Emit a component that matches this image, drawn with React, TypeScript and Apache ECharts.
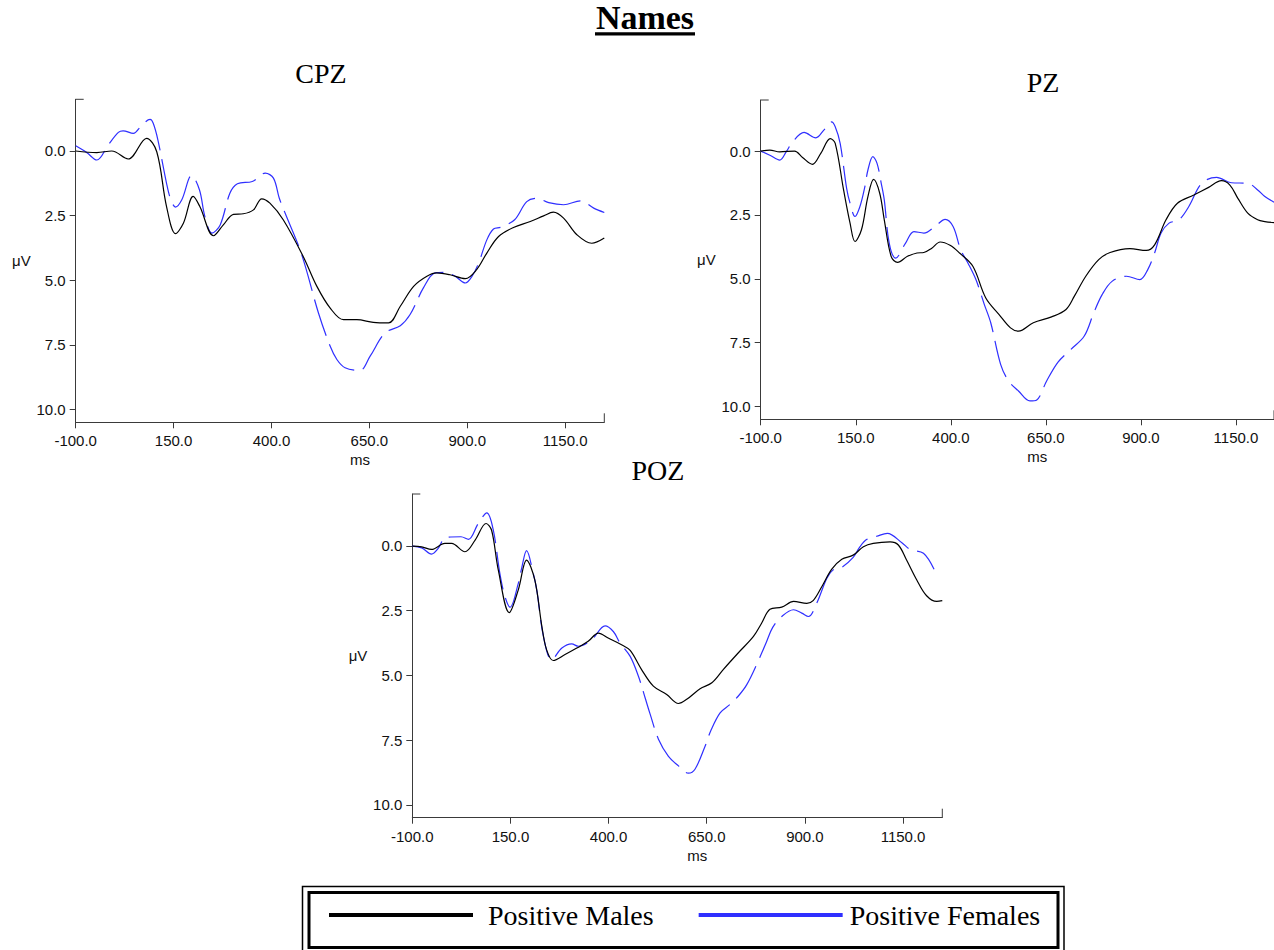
import React, { useEffect, useRef } from "react";
import * as echarts from "echarts";

// ---------- data (time in ms, amplitude in µV) ----------
const X_TICKS = [-100, 150, 400, 650, 900, 1150];
const Y_TICKS = [0, 2.5, 5, 7.5, 10];
const SERIES_NAMES = ["Positive Males", "Positive Females"];
const PANEL_NAMES = ["CPZ", "PZ", "POZ"];

const CPZ_MALES = [
  [-100, 0], [-46, 0.06], [-8, 0], [34, 0.31], [81, -0.49], [107, 0.03], [132, 2.15], [155, 3.2],
  [175, 2.8], [200, 1.76], [217, 2.15], [252, 3.28], [277, 2.86], [303, 2.45], [328, 2.43],
  [354, 2.28], [375, 1.85], [396, 2.02], [430, 2.66], [481, 4.08], [516, 5.24], [550, 6.08],
  [584, 6.53], [618, 6.53], [660, 6.63], [699, 6.65], [729, 6.01], [763, 5.24], [797, 4.85],
  [822, 4.72], [856, 4.79], [895, 4.94], [924, 4.59], [950, 3.95], [980, 3.31], [1018, 2.96],
  [1061, 2.73], [1095, 2.51], [1120, 2.37], [1146, 2.6], [1180, 3.24], [1218, 3.57], [1250, 3.37],
];
const CPZ_FEMALES = [
  [-100, -0.2], [-72, 0.06], [-46, 0.35], [-17, -0.23], [9, -0.72], [21, -0.78], [47, -0.68],
  [69, -1.0], [90, -1.22], [98, -1.07], [110, -0.42], [132, 1.25], [143, 1.89], [155, 2.17],
  [171, 1.89], [196, 0.95], [216, 1.5], [230, 2.54], [248, 3.18], [269, 2.86], [294, 1.63],
  [313, 1.27], [351, 1.18], [384, 0.86], [405, 1.05], [420, 1.83], [435, 2.41], [477, 4.0],
  [520, 6.27], [550, 7.56], [567, 8.07], [588, 8.39], [626, 8.49], [652, 7.94], [690, 7.04],
  [729, 6.76], [754, 6.33], [788, 5.3], [818, 4.72], [844, 4.7], [869, 4.85], [895, 5.11],
  [912, 4.85], [929, 4.34], [950, 3.44], [967, 3.02], [986, 2.95], [1021, 2.66], [1052, 1.96],
  [1078, 1.83], [1108, 2.0], [1146, 2.08], [1189, 1.93], [1223, 2.21], [1250, 2.38],
];
const PZ_MALES = [
  [-100, 0], [-76, -0.04], [-50, 0.03], [-11, 0], [10, 0.25], [36, 0.52], [58, 0.09], [83, -0.49],
  [96, -0.3], [118, 1.52], [135, 2.82], [148, 3.54], [165, 3.08], [182, 1.78], [197, 1.11],
  [213, 1.65], [225, 2.69], [243, 4.12], [260, 4.36], [286, 4.12], [311, 3.99], [329, 3.97],
  [350, 3.8], [372, 3.56], [398, 3.69], [423, 3.99], [458, 4.51], [492, 5.75], [527, 6.4],
  [557, 6.92], [578, 7.05], [617, 6.72], [665, 6.49], [703, 6.2], [725, 5.68], [755, 4.9],
  [789, 4.25], [819, 3.97], [871, 3.82], [914, 3.89], [936, 3.67], [966, 2.69], [996, 2.04],
  [1039, 1.72], [1078, 1.42], [1112, 1.16], [1134, 1.33], [1155, 1.85], [1181, 2.43],
  [1207, 2.69], [1226, 2.76], [1250, 2.8],
];
const PZ_FEMALES = [
  [-100, 0], [-76, 0.16], [-50, 0.35], [-33, 0.03], [-16, -0.36], [14, -0.73], [45, -0.52],
  [66, -0.82], [86, -1.14], [96, -0.95], [109, -0.3], [126, 1.46], [135, 2.04], [148, 2.56],
  [161, 2.17], [174, 1.39], [182, 0.74], [195, 0.22], [206, 0.48], [217, 1.26], [225, 1.91],
  [238, 3.6], [255, 4.19], [281, 3.6], [303, 3.15], [329, 3.21], [363, 2.89], [385, 2.67],
  [406, 2.95], [426, 3.86], [445, 4.38], [466, 5.03], [488, 6.0], [505, 6.72], [531, 8.35],
  [552, 9.0], [578, 9.39], [608, 9.78], [626, 9.74], [652, 9.0], [682, 8.26], [716, 7.76],
  [751, 7.24], [776, 6.33], [798, 5.62], [824, 5.1], [862, 4.9], [897, 5.03], [918, 4.64],
  [936, 3.99], [953, 3.21], [974, 2.82], [1000, 2.69], [1026, 2.17], [1060, 1.26], [1099, 1.03],
  [1138, 1.24], [1181, 1.26], [1207, 1.52], [1226, 1.78], [1250, 2.0],
];
const POZ_MALES = [
  [-100, 0.01], [-76, 0.04], [-51, 0.14], [-17, -0.09], [0, -0.09], [34, 0.23], [60, -0.22],
  [88, -0.86], [102, -0.6], [119, 0.93], [147, 2.58], [170, 1.7], [191, 0.55], [212, 1.32],
  [230, 3.11], [242, 4.01], [259, 4.43], [289, 4.2], [319, 3.95], [348, 3.69], [374, 3.37],
  [399, 3.56], [433, 3.82], [455, 4.04], [484, 4.78], [514, 5.42], [548, 5.74], [578, 6.09],
  [599, 5.93], [633, 5.52], [663, 5.29], [692, 4.78], [730, 4.14], [769, 3.5], [790, 2.98],
  [811, 2.45], [841, 2.37], [871, 2.15], [905, 2.22], [921, 2.12], [943, 1.58], [968, 0.91],
  [994, 0.52], [1023, 0.36], [1049, 0.04], [1074, -0.09], [1117, -0.15], [1138, -0.03],
  [1159, 0.55], [1185, 1.32], [1210, 1.93], [1236, 2.15], [1250, 2.12],
];
const POZ_FEMALES = [
  [-100, 0.01], [-76, 0.08], [-51, 0.32], [-34, 0.1], [-15, -0.32], [24, -0.35], [43, -0.25],
  [68, -0.86], [90, -1.27], [106, -0.63], [123, 1.06], [136, 1.96], [149, 2.37], [170, 1.45],
  [179, 0.83], [191, 0.19], [208, 1.06], [217, 1.7], [234, 3.5], [255, 4.4], [281, 3.95],
  [306, 3.79], [323, 3.88], [357, 3.63], [391, 3.09], [412, 3.31], [429, 3.75], [455, 4.27],
  [476, 5.04], [493, 5.87], [506, 6.51], [527, 7.47], [552, 8.12], [578, 8.5], [603, 8.78],
  [620, 8.63], [646, 7.73], [660, 7.15], [684, 6.45], [709, 6.13], [730, 5.81], [752, 5.36],
  [777, 4.59], [801, 3.75], [818, 3.15], [841, 2.73], [871, 2.47], [892, 2.6], [909, 2.73],
  [930, 2.22], [956, 1.25], [972, 0.93], [994, 0.83], [1023, 0.45], [1040, 0.04], [1058, -0.25],
  [1083, -0.37], [1110, -0.48], [1147, -0.12], [1168, 0.14], [1202, 0.29], [1229, 0.91],
];

const MALES = [CPZ_MALES, PZ_MALES, POZ_MALES];
const FEMALES = [CPZ_FEMALES, PZ_FEMALES, POZ_FEMALES];

// ---------- layout / style ----------
const X_MIN = -100;
const X_MAX = 1250;
const Y_MIN = -2;
const Y_MAX = 10.5;
const GRIDS = [
  { left: 75.7, top: 99.3, width: 528.6, height: 323 },
  { left: 760.7, top: 100, width: 522.7, height: 319.3 },
  { left: 412.3, top: 494, width: 530, height: 323.7 },
];
const TITLE_POS = [
  { x: 321, y: 73 },
  { x: 1043, y: 82 },
  { x: 658, y: 470 },
];
const BLUE = "#2f2fff";
const AXIS_COLOR = "#3a3a3a";
const SANS = "'Liberation Sans', Arial, sans-serif";
const SERIF = "'Liberation Serif', 'Times New Roman', serif";

export default function App() {
  const ref = useRef<HTMLDivElement>(null);

  useEffect(() => {
    if (!ref.current) return;
    const chart = echarts.init(ref.current, null, { renderer: "svg" });
    const fmt = (v: number) => Number(v).toFixed(1);

    const option: any = {
      animation: false,
      backgroundColor: "#ffffff",
      grid: GRIDS.map((g) => ({ ...g, containLabel: false })),
      xAxis: GRIDS.map((_, i) => ({
        type: "value",
        gridIndex: i,
        min: X_MIN,
        max: X_MAX,
        name: "ms",
        nameLocation: "middle",
        nameGap: 30,
        nameTextStyle: { fontFamily: SANS, fontSize: 15, color: "#111", padding: [0, 0, 0, 40] },
        axisLine: { show: true, onZero: false, lineStyle: { color: AXIS_COLOR, width: 1 } },
        axisTick: { show: true, length: 6, customValues: X_TICKS, lineStyle: { color: AXIS_COLOR } },
        axisLabel: {
          customValues: X_TICKS,
          formatter: fmt,
          fontFamily: SANS,
          fontSize: 15,
          color: "#111",
          margin: 11,
        },
        splitLine: { show: false },
      })),
      yAxis: GRIDS.map((_, i) => ({
        type: "value",
        gridIndex: i,
        inverse: true,
        min: Y_MIN,
        max: Y_MAX,
        name: "μV",
        nameLocation: "middle",
        nameRotate: 0,
        nameGap: 45,
        nameTextStyle: { fontFamily: SANS, fontSize: 15, color: "#111" },
        axisLine: { show: true, onZero: false, lineStyle: { color: AXIS_COLOR, width: 1 } },
        axisTick: { show: true, length: 6, customValues: Y_TICKS, lineStyle: { color: AXIS_COLOR } },
        axisLabel: {
          customValues: Y_TICKS,
          formatter: fmt,
          fontFamily: SANS,
          fontSize: 15,
          color: "#111",
          margin: 10,
        },
        splitLine: { show: false },
      })),
      legend: {
        data: [
          { name: SERIES_NAMES[0], textStyle: { padding: [0, 0, 0, 10] } },
          { name: SERIES_NAMES[1], textStyle: { padding: [0, 0, 0, 2] } },
        ],
        left: 329,
        top: 901,
        padding: 0,
        icon: "rect",
        itemWidth: 144,
        itemHeight: 4,
        itemGap: 45,
        itemStyle: { borderWidth: 0 },
        lineStyle: { type: "solid" },
        textStyle: { fontFamily: SERIF, fontSize: 28, color: "#000" },
        selectedMode: false,
      },
      series: GRIDS.flatMap((_, i) => [
        {
          type: "line",
          name: SERIES_NAMES[1],
          xAxisIndex: i,
          yAxisIndex: i,
          data: FEMALES[i],
          symbol: "none",
          showSymbol: false,
          smooth: 0.35,
          color: BLUE,
          lineStyle: { color: BLUE, width: 1.2, type: [38, 9] },
          itemStyle: { color: BLUE },
        },
        {
          type: "line",
          name: SERIES_NAMES[0],
          xAxisIndex: i,
          yAxisIndex: i,
          data: MALES[i],
          symbol: "none",
          showSymbol: false,
          smooth: 0.35,
          color: "#000",
          lineStyle: { color: "#000", width: 1.2 },
          itemStyle: { color: "#000" },
        },
      ]),
    };
    chart.setOption(option);

    // decorations computed from the axes
    const graphics: any[] = [];
    GRIDS.forEach((_, i) => {
      const top = chart.convertToPixel({ gridIndex: i } as any, [X_MIN, Y_MIN]) as number[];
      const right = chart.convertToPixel({ gridIndex: i } as any, [X_MAX, Y_MAX]) as number[];
      graphics.push({
        type: "line",
        shape: { x1: top[0], y1: top[1], x2: top[0] + 8, y2: top[1] },
        style: { stroke: AXIS_COLOR, lineWidth: 1 },
      });
      graphics.push({
        type: "line",
        shape: { x1: right[0], y1: right[1], x2: right[0], y2: right[1] - 9 },
        style: { stroke: AXIS_COLOR, lineWidth: 1 },
      });
      graphics.push({
        type: "text",
        x: TITLE_POS[i].x,
        y: TITLE_POS[i].y,
        style: {
          text: PANEL_NAMES[i],
          font: `28px ${SERIF}`,
          fill: "#000",
          align: "center",
          verticalAlign: "middle",
        },
      });
    });
    // main title with underline
    graphics.push({
      type: "text",
      x: 645,
      y: 17,
      style: {
        text: "Names",
        font: `bold 34px ${SERIF}`,
        lineHeight: 32,
        fill: "#000",
        align: "center",
        verticalAlign: "middle",
      },
    });
    graphics.push({ type: "rect", shape: { x: 595, y: 32.3, width: 100, height: 3.2 }, style: { fill: "#000" } });
    // legend double border
    graphics.push({
      type: "rect",
      shape: { x: 302.5, y: 886.5, width: 761.5, height: 70 },
      style: { fill: "none", stroke: "#000", lineWidth: 1.5 },
      z: -1,
    });
    graphics.push({
      type: "rect",
      shape: { x: 309, y: 892.5, width: 749, height: 55 },
      style: { fill: "none", stroke: "#000", lineWidth: 3 },
      z: -1,
    });
    chart.setOption({ graphic: graphics });

    return () => chart.dispose();
  }, []);

  return (
    <div
      ref={ref}
      style={{ position: "absolute", left: 0, top: 0, width: 1274, height: 950, background: "#fff" }}
    />
  );
}
